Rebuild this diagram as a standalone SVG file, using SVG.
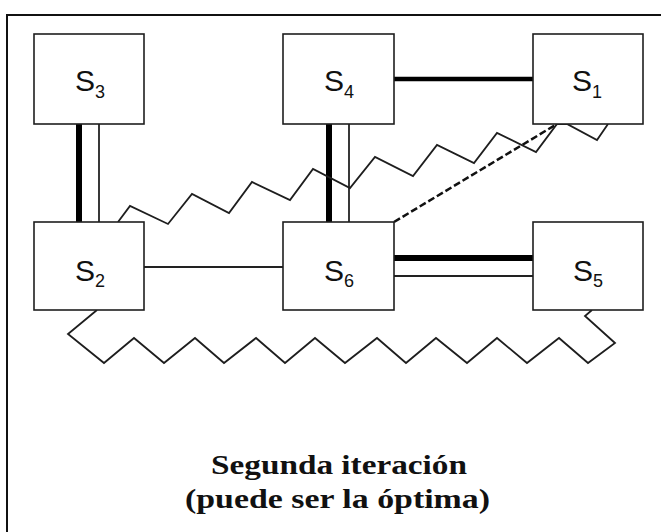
<svg xmlns="http://www.w3.org/2000/svg" width="661" height="532" viewBox="0 0 661 532">
<style>
.box{fill:#fff;stroke:#1e1e1e;stroke-width:1.6}
.lbl{font-family:"Liberation Sans",Arial,sans-serif;font-size:30px;fill:#111}
.sub{font-size:18px}
.thick{stroke:#000;stroke-width:6;fill:none}
.thin{stroke:#222;stroke-width:1.8;fill:none}
.zig{stroke:#1e1e1e;stroke-width:1.8;fill:none;stroke-linejoin:miter}
.dash{stroke:#111;stroke-width:2.5;stroke-dasharray:7 3;fill:none}
.cap{font-family:"Liberation Serif","Times New Roman",serif;font-weight:bold;font-size:27px;fill:#111}
</style>
<rect width="661" height="532" fill="#fff"/>
<path d="M7,532 V15 H661" fill="none" stroke="#111" stroke-width="2"/>
<g id="connectors">
<line class="thick" x1="79" y1="124" x2="79" y2="222"/>
<line class="thin" x1="99" y1="124" x2="99" y2="222"/>
<line class="thick" x1="329" y1="124" x2="329" y2="222"/>
<line class="thin" x1="349" y1="124" x2="349" y2="222"/>
<line class="thick" x1="394" y1="79" x2="533" y2="79" style="stroke-width:4.5"/>
<line class="thick" x1="394" y1="258" x2="533" y2="258"/>
<line class="thin" x1="394" y1="276" x2="533" y2="276"/>
<line class="thin" x1="144" y1="267" x2="283" y2="267"/>
<line class="dash" x1="394" y1="222" x2="557" y2="124"/>
<polyline class="zig" points="118,222 130,206 168,224 192,194 229,213 252,182 290,200 313,169 350,188 375,157 413,176 437,145 474,163 497,133 536,152 557,124 567,124 597,140 608,124"/>
<polyline class="zig" points="97,310 68,334 104,363 134,338 164,363 195,338 224,363 256,338 285,363 315,338 345,363 377,338 406,363 436,338 467,363 497,338 527,363 559,338 588,363 615,343 585,316 592,310"/>
</g>
<g id="S3"><rect class="box" x="34" y="34" width="110" height="90"/><text class="lbl" x="90" y="91" text-anchor="middle">S<tspan class="sub" dy="7">3</tspan></text></g>
<g id="S4"><rect class="box" x="283" y="34" width="111" height="90"/><text class="lbl" x="339" y="91" text-anchor="middle">S<tspan class="sub" dy="7">4</tspan></text></g>
<g id="S1"><rect class="box" x="533" y="34" width="110" height="90"/><text class="lbl" x="587" y="91" text-anchor="middle">S<tspan class="sub" dy="7">1</tspan></text></g>
<g id="S2"><rect class="box" x="34" y="222" width="110" height="88"/><text class="lbl" x="90" y="281" text-anchor="middle">S<tspan class="sub" dy="6">2</tspan></text></g>
<g id="S6"><rect class="box" x="283" y="222" width="111" height="88"/><text class="lbl" x="339" y="281" text-anchor="middle">S<tspan class="sub" dy="6">6</tspan></text></g>
<g id="S5"><rect class="box" x="533" y="222" width="110" height="88"/><text class="lbl" x="588" y="281" text-anchor="middle">S<tspan class="sub" dy="6">5</tspan></text></g>
<g id="caption">
<text class="cap" x="339" y="474" text-anchor="middle" textLength="256" lengthAdjust="spacingAndGlyphs">Segunda iteración</text>
<text class="cap" x="337.5" y="508" text-anchor="middle" textLength="305" lengthAdjust="spacingAndGlyphs">(puede ser la óptima)</text>
</g>
</svg>
